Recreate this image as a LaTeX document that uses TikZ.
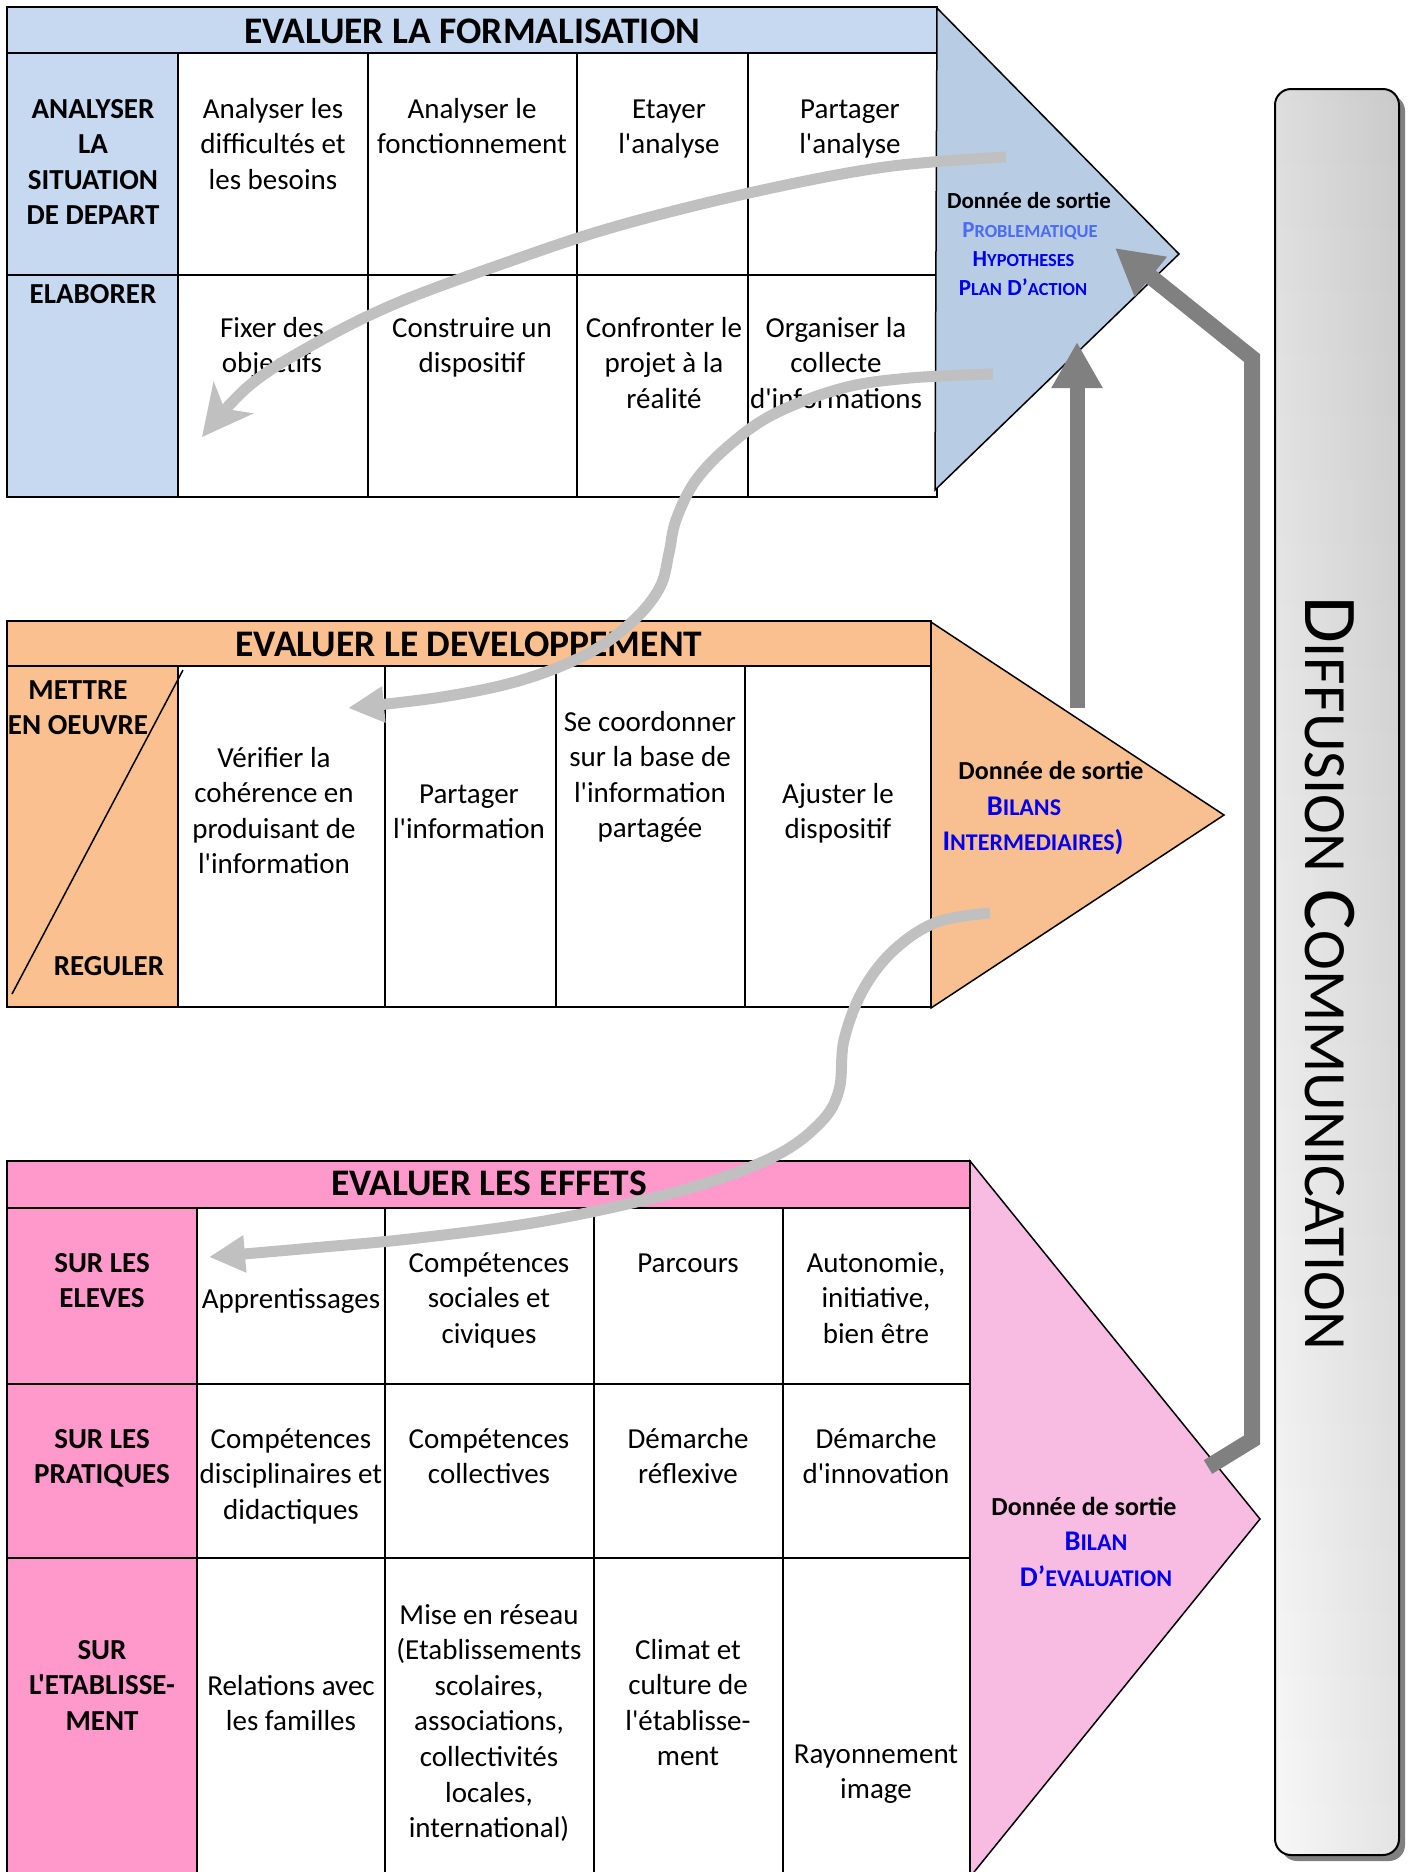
\documentclass[tikz,border=0pt]{standalone}
\usepackage{fontspec}
\setmainfont{Carlito}[Ligatures=TeXOff]
\usetikzlibrary{arrows.meta}
\definecolor{blueA}{HTML}{C6D9F1}
\definecolor{blueT}{HTML}{B8CCE4}
\definecolor{orA}{HTML}{FAC090}
\definecolor{orT}{HTML}{F8C090}
\definecolor{pkA}{HTML}{FF99CC}
\definecolor{pkT}{HTML}{F8BCE2}
\definecolor{lgray}{HTML}{C0C0C0}
\definecolor{dgray}{HTML}{808080}
\definecolor{bluetxt}{HTML}{0000EE}
\definecolor{bluelt}{HTML}{4A6CF5}
\newcommand\mysmall[2]{{\fontsize{#1}{#1}\selectfont #2}}
\tikzset{
  body/.style={text width=230pt, align=flush center, inner sep=0pt, anchor=base, font=\fontsize{29}{35.6}\selectfont},
  bodyb/.style={body, font=\fontsize{29}{35.6}\selectfont\bfseries},
  hdr/.style={inner sep=0pt, anchor=base, font=\fontsize{37.5}{40}\selectfont\bfseries},
  tline/.style={line width=2pt},
  tri/.style={draw=black, line width=1.5pt, line join=miter},
  outS/.style={inner sep=0pt, anchor=base, font=\fontsize{23}{26}\selectfont\bfseries},
  outL/.style={inner sep=0pt, anchor=base, font=\fontsize{26}{30}\selectfont\bfseries},
  outV/.style={inner sep=0pt, anchor=base, font=\fontsize{28.5}{30}\selectfont\bfseries},
  lgarrow/.style={draw=lgray, line width=11pt},
  dgarrow/.style={draw=dgray, line width=15pt}
}
\begin{document}
\begin{tikzpicture}[x=1pt,y=-1pt]
\useasboundingbox (0,0) rectangle (1408,1872);
\fill[white] (0,0) rectangle (1408,1872);

% ---------- TOP TABLE ----------
\fill[blueA] (7,7) rectangle (937,53);
\fill[blueA] (7,53) rectangle (178,497);
\node[hdr] (h1) at (472,43) {EVALUER LA FORMALISATION};
\node[bodyb] (t11) at (93,118) {ANALYSER\\LA\\SITUATION\\DE DEPART};
\node[body] (t12) at (273,118) {Analyser les\\difficultés et\\les besoins};
\node[body] (t13) at (472,118) {Analyser le\\fonctionnement};
\node[body] (t14) at (669,118) {Etayer\\l'analyse};
\node[body] (t15) at (850,118) {Partager\\l'analyse};
\node[bodyb] (t21) at (93,303) {ELABORER};
\node[body] (t22) at (272,337) {Fixer des\\objectifs};
\node[body] (t23) at (472,337) {Construire un\\dispositif};
\node[body] (t24) at (664,337) {Confronter le\\projet à la\\réalité};
\node[body] (t25) at (836,337) {Organiser la\\collecte\\d'informations};
\draw[tline] (7,7) rectangle (937,497);
\draw[tline] (7,53) -- (937,53);
\draw[tline] (7,275) -- (937,275);
\foreach \x in {178,368,577,748} \draw[tline] (\x,53) -- (\x,497);
\filldraw[tri, fill=blueT] (937,8) -- (1179,254) -- (935,490) -- cycle;
\node[outS] (o1a) at (1029,208) {Donnée de sortie};
\node[outS, text=bluelt] (o1b) at (1030,237) {P\mysmall{18.4}{ROBLEMATIQUE}};
\node[outS, text=bluetxt] (o1c) at (1023.5,266) {H\mysmall{18.4}{YPOTHESES}};
\node[outS, text=bluetxt] (o1d) at (1023,295) {P\mysmall{18.4}{LAN} D’\mysmall{18.4}{ACTION}};

% ---------- MIDDLE TABLE ----------
\fill[orA] (7,621) rectangle (931,666);
\fill[orA] (7,666) rectangle (178,1007);
\node[hdr] (h2) at (469,656) {EVALUER LE DEVELOPPEMENT};
\node[bodyb] (m1a) at (78,699) {METTRE\\EN OEUVRE};
\node[bodyb] (m1b) at (109,975) {REGULER};
\node[body] (m2) at (274,767) {Vérifier la\\cohérence en\\produisant de\\l'information};
\node[body] (m3) at (469,803) {Partager\\l'information};
\node[body] (m4) at (650,731) {Se coordonner\\sur la base de\\l'information\\partagée};
\node[body] (m5) at (838,803) {Ajuster le\\dispositif};
\draw[line width=1.5pt] (12,994) -- (183,670);
\draw[tline] (7,621) rectangle (931,1007);
\draw[tline] (7,666) -- (931,666);
\foreach \x in {178,385,556,745} \draw[tline] (\x,666) -- (\x,1007);
\filldraw[tri, fill=orT] (931,622) -- (1224,815) -- (931,1008) -- cycle;
\node[outL] (o2a) at (1051,779) {Donnée de sortie};
\node[outV, text=bluetxt] (o2b) at (1024,815) {B\mysmall{24}{ILANS}};
\node[outV, text=bluetxt] (o2c) at (1033,850) {I\mysmall{24}{NTERMEDIAIRES})};

% ---------- BOTTOM TABLE ----------
\fill[pkA] (7,1161) rectangle (970,1208);
\fill[pkA] (7,1208) rectangle (197,1880);
\node[hdr] (h3) at (489,1195) {EVALUER LES EFFETS};
\node[bodyb] (b11) at (102,1272) {SUR LES\\ELEVES};
\node[body] (b12) at (291,1308) {Apprentissages};
\node[body] (b13) at (489,1272) {Compétences\\sociales et\\civiques};
\node[body] (b14) at (688,1272) {Parcours};
\node[body] (b15) at (876,1272) {Autonomie,\\initiative,\\bien être};
\node[bodyb] (b21) at (102,1448) {SUR LES\\PRATIQUES};
\node[body] (b22) at (291,1448) {Compétences\\disciplinaires et\\didactiques};
\node[body] (b23) at (489,1448) {Compétences\\collectives};
\node[body] (b24) at (688,1448) {Démarche\\réflexive};
\node[body] (b25) at (876,1448) {Démarche\\d'innovation};
\node[bodyb] (b31) at (102,1659) {SUR\\L'ETABLISSE-\\MENT};
\node[body] (b32) at (291,1695) {Relations avec\\les familles};
\node[body] (b33) at (489,1624) {Mise en réseau\\(Etablissements\\scolaires,\\associations,\\collectivités\\locales,\\international)};
\node[body] (b34) at (688,1659) {Climat et\\culture de\\l'établisse-\\ment};
\node[body] (b35) at (876,1763) {Rayonnement\\image};
\draw[tline] (7,1890) -- (7,1161) -- (970,1161) -- (970,1890);
\draw[tline] (7,1208) -- (970,1208);
\draw[tline] (7,1384) -- (970,1384);
\draw[tline] (7,1558) -- (970,1558);
\foreach \x in {197,385,594,783} \draw[tline] (\x,1208) -- (\x,1890);
\filldraw[tri, fill=pkT] (970,1161) -- (1260,1519) -- (970,1877) -- cycle;
\node[outL] (o3a) at (1084,1515) {Donnée de sortie};
\node[outV, text=bluetxt] (o3b) at (1096,1550) {B\mysmall{24}{ILAN}};
\node[outV, text=bluetxt] (o3c) at (1096,1586) {D’\mysmall{24}{EVALUATION}};

% ---------- LIGHT GRAY CURVED ARROWS ----------
\coordinate (a1s) at (1006,157);
\coordinate (a1e) at (202,437);
\draw[lgarrow, -{Stealth[length=50pt,width=50pt,inset=14pt]}] plot[smooth, tension=0.6] coordinates {(a1s) (885,167) (749,193) (614,227) (505,263) (397,303) (316,343) (250,385) (a1e)};
\coordinate (a2s) at (993,374);
\coordinate (a2e) at (348,708);
\draw[lgarrow, -{Triangle[length=36pt,width=34pt]}] plot[smooth, tension=0.6] coordinates {(a2s) (910,378) (843,388) (776,413) (732,443) (696,480) (676,520) (669,553) (660,587) (634,620) (589,653) (522,680) (442,697) (a2e)};
\coordinate (a3s) at (990,913);
\coordinate (a3e) at (209,1257);
\draw[lgarrow, -{Triangle[length=36pt,width=35pt]}] plot[smooth, tension=0.6] coordinates {(a3s) (937,922) (894,950) (863,990) (844,1040) (839,1090) (820,1123) (773,1157) (683,1190) (550,1220) (418,1238) (312,1248) (a3e)};

% ---------- DARK GRAY ARROWS ----------
\coordinate (dA1) at (1077,708);
\coordinate (dA2) at (1077,342);
\draw[dgarrow, -{Triangle[length=46pt,width=48pt]}] (dA1) -- (dA2);
\coordinate (dB1) at (1208,1467);
\coordinate (dB2) at (1115,248);
\draw[dgarrow, line width=16pt, line join=miter, -{Triangle[length=46pt,width=48pt]}] (dB1) -- (1252,1440) -- (1252,358) -- (dB2);

% ---------- DIFFUSION BAR ----------
\fill[dgray, rounded corners=16pt] (1281,95) rectangle (1405,1861);
\shade[rounded corners=16pt, top color=black!14, bottom color=black!3] (1275,89) rectangle (1399,1855);
\shade[rounded corners=16pt, left color=white, right color=black, opacity=0.08] (1275,89) rectangle (1399,1855);
\draw[line width=2pt, rounded corners=16pt] (1275,89) rectangle (1399,1855);
\node[rotate=-90, anchor=base, inner sep=0pt, font=\fontsize{76}{76}\selectfont] (diff) at (1305,973) {D\mysmall{60}{IFFUSION} C\mysmall{60}{OMMUNICATION}};
\end{tikzpicture}
\end{document}
